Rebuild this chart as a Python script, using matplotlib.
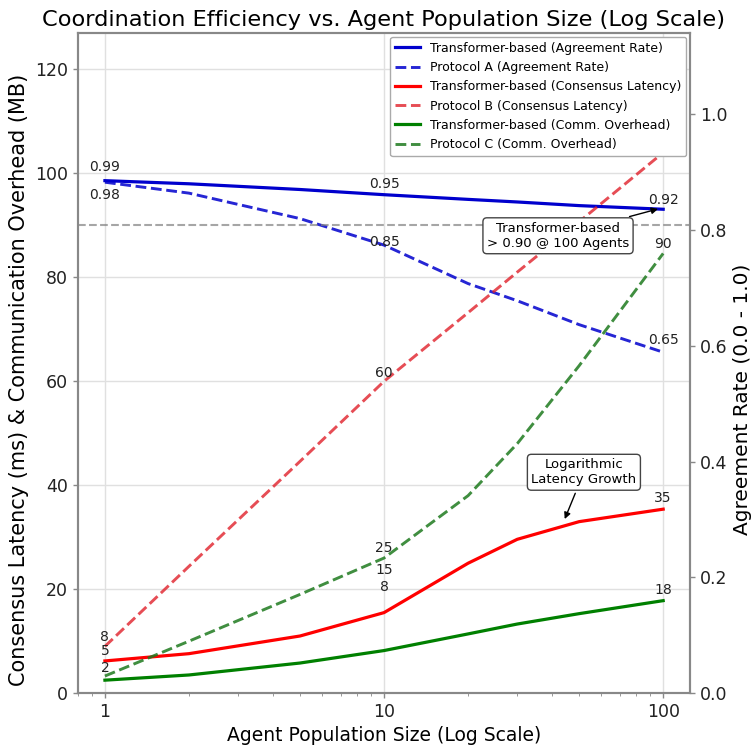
import numpy as np
import matplotlib
matplotlib.use("Agg")
import matplotlib.pyplot as plt

# agent population sizes (log x)
agents = [1, 2, 5, 10, 20, 30, 50, 100]

# agreement rate (0-1), drawn x100 on the left scale like the original
agree_tf = [0.986, 0.980, 0.969, 0.959, 0.950, 0.945, 0.938, 0.931]
agree_a = [0.983, 0.962, 0.913, 0.862, 0.788, 0.755, 0.709, 0.656]

# consensus latency (ms)
lat_tf = [6.2, 7.6, 11.0, 15.5, 25.0, 29.6, 33.0, 35.4]
lat_b = [9.0, 24.4, 44.6, 60.0, 73.2, 81.0, 90.7, 104.0]

# communication overhead (MB)
ovh_tf = [2.5, 3.5, 5.8, 8.2, 11.4, 13.3, 15.3, 17.8]
ovh_c = [3.3, 10.0, 19.0, 26.0, 38.0, 48.0, 63.0, 84.6]

# point labels
labels_x = [1, 1, 10, 10, 100, 100, 1, 10, 100, 1, 10, 100, 1, 10, 100, 10, 100]
labels_y = [98.6, 98.3, 95.9, 86.2, 93.1, 65.6, 9.0, 60.0, 104.0, 6.2, 15.5, 35.4,
            3.3, 26.0, 84.6, 8.2, 17.8]
labels_txt = ['0.99', '0.98', '0.95', '0.85', '0.92', '0.65', '8', '60', '115',
              '5', '15', '35', '2', '25', '90', '8', '18']
labels_dy = [9.5, -9.5, 8, 2, 7, 8.5, 7, 6, 8, 7, 30.5, 8, 6, 7, 6.5, 46, 8]

fig = plt.figure(figsize=(7.56, 7.51), dpi=100)
ax = fig.add_axes([0.103, 0.077, 0.81, 0.879])
ax2 = ax.twinx()

ax.plot(agents, np.array(agree_tf) * 100, color='mediumblue', lw=2.3,
        label='Transformer-based (Agreement Rate)')
ax.plot(agents, np.array(agree_a) * 100, color='mediumblue', lw=2.1, ls='--', alpha=0.85,
        label='Protocol A (Agreement Rate)')
ax.plot(agents, lat_tf, color='red', lw=2.3, label='Transformer-based (Consensus Latency)')
ax.plot(agents, lat_b, color='#e0202a', lw=2.1, ls='--', alpha=0.8,
        label='Protocol B (Consensus Latency)')
ax.plot(agents, ovh_tf, color='green', lw=2.3, label='Transformer-based (Comm. Overhead)')
ax.plot(agents, ovh_c, color='#1e7a1e', lw=2.1, ls='--', alpha=0.85,
        label='Protocol C (Comm. Overhead)')

ax.axhline(90, color='gray', ls='--', lw=1.5, alpha=0.7)

for x, y, t, dy in zip(labels_x, labels_y, labels_txt, labels_dy):
    ax.annotate(t, (x, y), xytext=(0, dy), textcoords='offset points',
                ha='center', va='center', fontsize=10, color='#222222')

ax.annotate('Transformer-based\n> 0.90 @ 100 Agents', xy=(98, 93.3), xytext=(42, 88.0),
            ha='center', va='center', fontsize=9.5,
            bbox=dict(boxstyle='round,pad=0.3', fc='white', ec='#444444', lw=1),
            arrowprops=dict(arrowstyle='-|>', color='black', lw=1))
ax.annotate('Logarithmic\nLatency Growth', xy=(44, 33), xytext=(52, 42.5),
            ha='center', va='center', fontsize=9.5,
            bbox=dict(boxstyle='round,pad=0.3', fc='white', ec='#444444', lw=1),
            arrowprops=dict(arrowstyle='-|>', color='black', lw=1))

ax.set_xscale('log')
ax.set_xlim(0.8, 125)
ax.set_ylim(0, 127)
ax2.set_ylim(0, 1.14)
ax.set_xticks([1, 10, 100])
ax.set_xticklabels(['1', '10', '100'])
ax.set_yticks([0, 20, 40, 60, 80, 100, 120])
ax2.set_yticks([0.0, 0.2, 0.4, 0.6, 0.8, 1.0])

ax.grid(True, which='major', color='#e0e0e0', lw=1)
ax.set_axisbelow(True)
for a in (ax, ax2):
    for s in a.spines.values():
        s.set_color('#888888')
        s.set_linewidth(1.5)
    a.tick_params(colors='#888888', labelcolor='#222222', labelsize=12.5, width=1)
ax.tick_params(which='minor', colors='#888888')

ax.set_xlabel('Agent Population Size (Log Scale)', fontsize=13.5, labelpad=4)
ax.set_ylabel('Consensus Latency (ms) & Communication Overhead (MB)', fontsize=15)
ax.yaxis.set_label_coords(-0.08, 0.474)
ax2.set_ylabel('Agreement Rate (0.0 - 1.0)', fontsize=14.5)
ax2.yaxis.set_label_coords(1.07, 0.445)
ax.set_title('Coordination Efficiency vs. Agent Population Size (Log Scale)', fontsize=16.2, pad=5)

leg = ax.legend(loc='upper right', fontsize=9, framealpha=1, edgecolor='#aaaaaa',
                borderaxespad=0.3)
leg.get_frame().set_linewidth(1)

fig.savefig('out.png', dpi=100)
